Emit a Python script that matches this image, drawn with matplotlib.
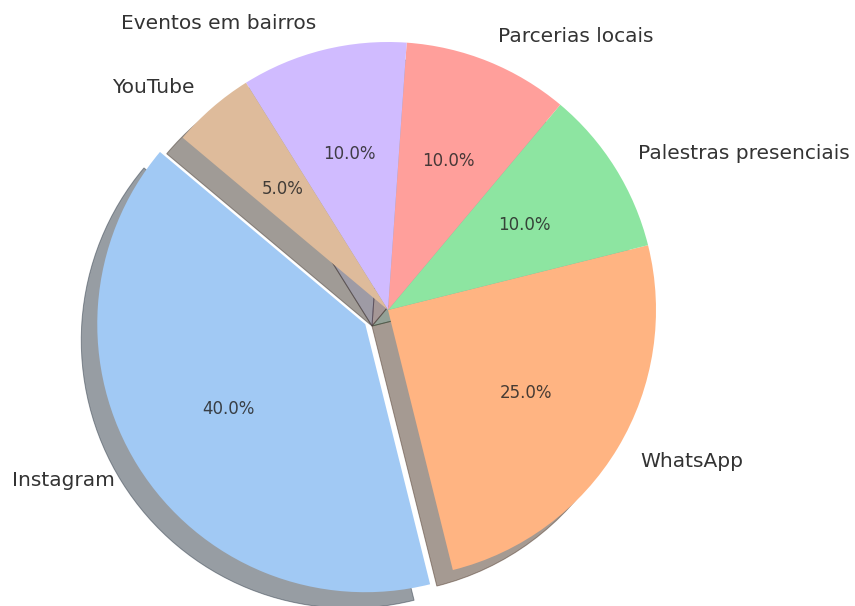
import matplotlib
matplotlib.use("Agg")
import matplotlib.pyplot as plt

categories = ["Instagram", "WhatsApp", "Palestras presenciais",
              "Parcerias locais", "Eventos em bairros", "YouTube"]
shares = [40, 25, 10, 10, 10, 5]
colors = ["#a1c9f4", "#ffb482", "#8de5a1", "#ff9f9b", "#d0bbff", "#debb9b"]
explode = [0.1, 0, 0, 0, 0, 0]

W, H = 855, 606
cx, cy, R = 388, 310, 268

fig = plt.figure(figsize=(W / 100, H / 100), dpi=100)
ax = fig.add_axes([0, 0, 1, 1])

wedges, texts, autotexts = ax.pie(
    shares, labels=categories, colors=colors, explode=explode,
    autopct="%1.1f%%", startangle=140, pctdistance=0.6, labeldistance=1.1,
    shadow={"ox": -0.043, "oy": -0.043, "linewidth": 0.7},
    textprops={"fontsize": 14.5, "color": "#333333"},
)
for t in autotexts:
    t.set_fontsize(12)
    t.set_color("#262626")
    t.set_alpha(0.85)

ax.set_xlim(-cx / R, (W - cx) / R)
ax.set_ylim(-(H - cy) / R, cy / R)
ax.set_aspect("auto")
ax.axis("off")

fig.savefig("out.png", dpi=100)
